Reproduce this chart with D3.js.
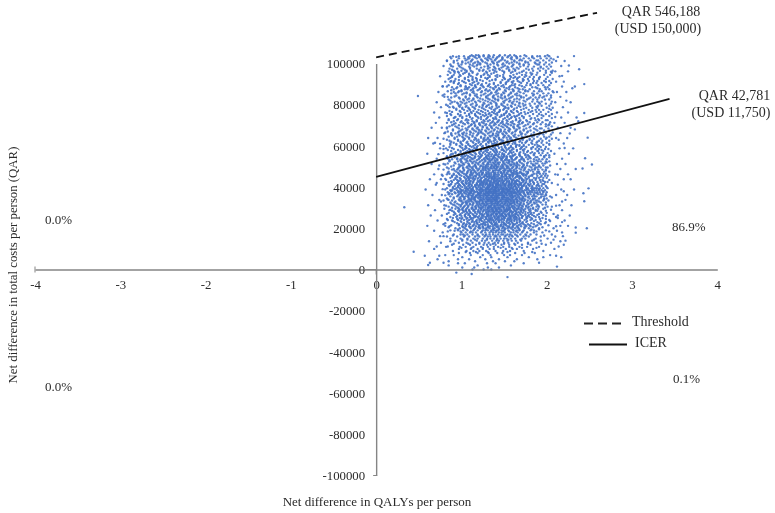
<!DOCTYPE html>
<html>
<head>
<meta charset="utf-8">
<script src="https://cdn.jsdelivr.net/npm/d3@7"></script>
<style>
  html, body { margin: 0; padding: 0; background: #fff; }
  svg { filter: blur(0.35px); }
  text { font-family: "Liberation Serif", serif; fill: #2b2b2b; }
</style>
</head>
<body>
<div id="chart"></div>
<script>
"use strict"

const qalyTicks = [-4, -3, -2, -1, 0, 1, 2, 3, 4];
const costTicks = [-100, -80, -60, -40, -20, 0, 20, 40, 60, 80, 100]; // thousand QAR

// line ends: [QALY, thousand QAR]
const thresholdLine = [[0, 103], [2.59, 124.6]];
const icerLine = [[0, 45], [3.44, 82.8]];

const quadrantLabels = ["0.0%", "0.0%", "86.9%", "0.1%"];
const lineLabels = ["QAR 546,188", "(USD 150,000)", "QAR 42,781", "(USD 11,750)"];
const legendLabels = ["Threshold", "ICER"];

// stray points: QALY, thousand QAR
const outliers = [[1.54,-3.7],[1.12,-2.2],[.94,-1.5],[.33,30.2],[.49,84.2],[2.49,39.4],[2.44,33.1],[2.32,103.6],[2.38,97.2],[2.12,1.4],[.61,2.2],[.44,8.6],[2.34,20.4],[2.34,17.9]];

// main cloud, read row by row: thousand QAR, then the QALYs in that row,
// in hundredths and counted from cloudOrigin
const cloudOrigin = 0.13;
const cloudRows = [
[0,[113,100,122]],[1,[118,88,131,102]],[2,[72,106,145]],[3,[91,117,83,160,127]],[4,[103,138,72,124,149]],
[5,[83,152,115,96,131,59,176]],[6,[204,122,88,166,109,141,183]],[7,[68,137,98,158,121,191,112,78,144]],[8,[106,173,129,84,150,97,135,119,161]],[9,[127,77,144,108,183,93,160,116,136,101]],
[10,[55,152,98,125,171,112,84,139,196,106,147,120]],[11,[130,69,110,164,92,143,118,178,85,125,155,101,136]],[12,[97,150,121,76,186,113,134,104,168,89,143,127,158,117,207]],[13,[142,63,108,130,175,93,153,119,100,165,126,84,137,192,114]],[14,[111,157,88,136,123,180,98,146,105,131,170,80,115,151,128,209,141]],
[15,[125,94,162,117,140,74,106,188,133,150,86,121,174,101,145,129,112,158,137]],[16,[147,103,82,128,166,114,138,96,153,121,70,180,108,132,143,90,160,118,126,197]],[17,[89,134,116,156,100,144,124,193,78,112,168,136,94,150,130,106,175,120,141,162,86]],[18,[120,158,97,138,110,65,148,127,182,104,134,87,164,115,145,124,100,153,172,131,92,205]],[19,[152,106,130,83,142,118,172,94,125,137,160,112,74,148,101,186,122,134,89,155,115,168,128]],
[20,[98,135,116,166,80,126,145,108,154,91,131,178,120,141,103,161,113,85,138,150,124,195,109,234]],[21,[141,112,73,128,157,96,136,119,174,104,147,88,124,163,133,108,152,118,198,100,130,143,92,168,121]],[22,[126,93,150,110,137,66,165,118,102,144,129,84,156,123,139,106,180,115,148,97,134,172,89,127,160,112]],[23,[105,146,122,87,159,131,113,176,99,140,125,152,79,117,136,163,108,128,143,94,205,120,134,155,102,186,115]],[24,[155,118,134,100,71,143,124,168,90,130,110,149,137,83,161,122,105,141,127,190,96,152,114,132,174,108,146,120]],
[25,[88,129,148,112,164,101,137,123,77,155,116,142,94,131,182,107,126,158,119,138,85,169,110,145,134,99,152,121,200]],[26,[139,104,120,159,91,133,147,113,172,125,82,143,108,135,154,117,97,128,165,140,111,186,122,102,150,131,87,145,118,136]],[27,[117,151,96,128,70,141,109,162,122,135,86,146,114,178,127,100,156,132,92,138,119,168,105,143,124,150,111,195,129,134,80]],[28,[130,93,144,118,157,103,125,136,78,167,112,148,121,90,140,128,154,106,180,116,133,97,162,123,146,109,138,84,126,151,119,131]],[29,[102,142,127,85,160,115,134,96,149,120,110,174,129,139,74,156,107,124,144,92,132,117,166,137,101,152,122,192,113,141,88,128]],
[30,[124,108,150,89,136,118,165,99,130,143,112,76,157,126,104,140,120,171,94,133,147,115,128,83,154,110,137,122,185,100,144,131,118]],[31,[146,116,95,132,69,158,121,107,141,128,177,86,136,113,152,125,100,163,119,143,134,91,148,110,126,139,104,169,122,155,130,115,198]],[32,[111,138,125,82,153,101,144,119,166,130,93,135,114,149,75,123,160,108,141,127,97,173,133,117,146,88,129,156,121,105,138,112,126,145]],[33,[131,92,148,115,124,160,104,137,80,142,120,178,127,99,152,112,134,87,145,123,168,108,139,116,96,155,129,63,141,118,132,106,149,122,205]],[34,[119,143,84,129,156,110,135,98,147,123,71,162,114,138,126,184,103,150,117,90,133,144,121,109,158,128,96,140,113,171,125,136,101,152,118,127]],
[35,[103,140,126,155,90,118,134,109,148,78,128,165,113,137,95,145,122,180,106,131,152,116,85,142,125,99,159,120,135,110,147,129,193,102,138,123]],[36,[136,115,68,147,124,100,157,130,88,141,119,172,106,133,150,112,126,95,144,121,162,83,137,109,128,153,116,140,98,131,123,186,104,146,118,134,110]],[37,[122,149,96,113,138,80,160,127,107,143,118,132,175,91,151,124,101,140,115,165,86,135,128,110,155,120,98,145,130,73,117,139,125,108,148,133,230]],[38,[109,134,155,87,124,146,116,99,168,129,141,75,120,136,105,153,127,92,144,113,183,122,138,102,159,118,131,84,149,125,111,142,97,135,120,128,207]],[39,[143,118,100,131,65,152,124,110,140,86,164,127,115,135,94,147,122,178,105,138,119,156,130,79,144,112,126,170,98,136,121,150,108,133,116,141]],
[40,[127,93,148,114,136,77,158,120,104,142,130,170,88,125,109,151,134,117,97,145,123,187,112,139,129,83,154,107,132,119,163,101,143,126]],[41,[105,139,121,160,90,128,146,112,72,135,118,156,99,131,142,124,176,108,150,115,85,137,127,96,166,120,144,110,133,123,103,153,130]],[42,[133,111,146,58,124,95,157,117,136,82,128,143,105,172,120,151,92,130,113,140,126,100,162,116,135,122,88,149,109,193]],[43,[118,150,98,131,75,143,122,108,160,127,89,137,113,154,125,183,101,141,116,132,94,147,120,168,106,134,128,84,110,152]],[44,[142,106,125,86,155,116,135,68,129,100,148,119,138,93,174,123,110,145,131,80,158,115,127,103,140,122,164,96,133]],
[45,[96,130,114,151,82,126,140,104,166,118,134,90,147,122,109,156,128,76,137,113,180,101,143,124,117,153,94,135,120]],[46,[129,105,148,119,64,138,92,159,125,111,143,85,131,170,116,100,152,127,135,78,145,108,122,162,97,139,114,200]],[47,[112,157,88,134,122,101,146,71,127,116,165,94,140,108,152,130,83,119,137,177,104,125,148,112,133,98,155]],[48,[145,99,124,79,136,113,160,106,130,143,90,120,152,116,186,127,102,138,85,148,110,131,168,95,125,141]],[49,[121,83,140,108,155,126,95,132,115,173,100,146,118,72,134,128,161,105,143,89,123,151,112,137,229]],
[50,[104,148,128,75,136,115,94,159,122,109,142,130,85,167,118,133,101,152,125,178,97,140,112]],[51,[138,90,117,153,126,68,144,107,131,160,96,122,146,84,135,113,171,103,128,149,119,240]],[52,[113,147,100,132,79,156,121,140,92,165,127,108,143,118,87,136,152,104,124,187,130]],[53,[129,86,141,111,160,97,134,120,73,148,105,126,175,115,138,93,155,122,143]],[54,[120,102,151,82,133,114,168,127,94,140,108,146,88,124,158,117,135,232,99]],
[55,[144,95,125,70,137,110,156,119,87,130,166,103,147,116,134,91,122,184,107,140]],[56,[109,135,155,84,123,60,142,115,98,162,128,75,137,104,150,120,90,131,172]],[57,[132,96,117,148,80,126,108,164,139,92,121,145,101,170,113,129,86,156]],[58,[116,146,100,71,134,159,89,124,110,140,181,97,128,152,83,118,136]],[59,[139,88,126,105,157,93,131,113,147,76,120,169,102,143,117,208]],
[60,[97,127,151,85,112,138,66,160,106,130,92,145,119,178,124,101,155]],[61,[123,62,142,104,133,87,170,116,150,95,128,110,137,190,81,147,125]],[62,[108,155,94,129,140,75,118,163,100,135,86,148,122,112,176]],[63,[134,90,113,146,70,127,102,159,120,141,83,107,167,132,116,201]],[64,[118,151,96,131,79,140,110,125,187,89,145,103,136,160,114,235]],
[65,[142,85,123,105,154,92,130,115,172,100,138,76,148,120,127]],[66,[101,135,80,158,112,124,93,146,107,180,128,88,140,118,214]],[67,[129,97,150,71,116,137,104,165,122,84,143,110,133,156]],[68,[111,144,88,126,100,160,133,77,152,119,94,138,174,107,220]],[69,[136,82,117,148,95,128,106,141,70,167,122,112,155]],
[70,[120,98,153,84,131,109,145,76,125,162,103,138,115,189]],[71,[102,140,89,121,158,95,133,113,147,80,126,172,108]],[72,[147,78,114,130,100,155,87,124,141,105,118,164,135,224]],[73,[125,93,136,110,168,83,143,116,99,151,128,72,177]],[74,[106,150,88,127,118,141,97,160,132,110,80,146,197]],
[75,[134,75,112,154,96,122,144,103,181,129,86,137,116]],[76,[115,148,91,129,70,157,107,125,139,99,165,120,231]],[77,[140,85,118,101,152,94,132,73,145,110,170,126]],[78,[103,127,160,81,137,113,96,149,122,190,88,142]],[79,[123,92,146,77,131,108,156,116,100,138,175,85]],
[80,[112,150,86,128,98,141,119,69,162,105,134]],[81,[137,82,121,104,155,93,127,146,113,178,88]],[82,[99,144,74,130,115,160,107,123,90,138,210]],[83,[126,85,109,152,96,135,118,166,101,143]],[84,[147,79,116,130,92,124,157,105,138,184]],
[85,[105,134,88,150,113,97,128,67,143,172,120]],[86,[122,100,156,83,136,110,145,93,127,195]],[87,[138,75,115,162,98,129,106,148,120,87]],[88,[94,131,109,153,81,124,140,101,176,217]],[89,[127,86,144,103,118,158,92,134,112,65]],
[90,[111,150,83,125,97,139,106,168,120,231]],[91,[133,90,146,102,155,78,140,186]],[92,[100,142,123,84,160,109,135,95,127]],[93,[118,153,91,104,137,74,148,115,178]],[94,[144,86,127,98,163,110,132,120,205]],
[95,[106,122,89,152,96,170,114]],[96,[137,100,158,83,116,147,128,93,192]],[97,[91,124,108,143,132,76,166,113,150]],[98,[120,152,97,134,87,142,110,180,126]],[99,[105,130,84,147,118,160,100,138,213]],
[100,[143,92,125,109,155,83,136,117,174,101]],[101,[98,131,149,112,88,123,162,106,141]],[102,[117,156,100,135,127,94,146,110,195,122]],[103,[129,95,141,108,152,118,135,170,103,124,146]],[104,[113,138,99,149,125,161,107,132,119,188,144,104]],
// second pass over the same cloud, on the half thousands
[8.5,[92,141,118,170,104]],[10.5,[133,87,158,112,175,99,146]],[12.5,[124,165,95,149,108,181,137,78]],[14.5,[103,156,129,88,172,117,142,195,94]],[16.5,[139,91,163,115,184,106,152,127,77,146]],
[18.5,[111,175,86,143,128,159,98,136,190,122,71,151]],[19.5,[147,102,169,124,83,155,116,138,178,93,131]],[20.5,[118,161,89,143,107,182,129,72,153,97,171,136,112,147]],[21.5,[154,84,126,176,101,139,115,162,92,148,189,108,133,75,167]],[22.5,[137,96,158,113,82,185,127,147,105,169,90,142,122,178,68,152]],
[23.5,[100,172,131,149,86,119,164,94,140,111,191,77,156,125,180,104,145]],[24.5,[163,87,144,121,179,98,135,155,109,70,170,128,150,93,186,116,141,82]],[25.5,[126,174,92,151,106,137,81,167,115,144,198,97,158,130,178,74,149,103,163]],[26.5,[95,148,170,112,134,85,157,122,183,101,143,166,78,128,153,91,176,118,139,162]],[27.5,[143,79,165,108,187,125,94,152,136,172,88,116,159,103,181,131,147,72,169,98,155]],
[28.5,[113,160,89,138,176,101,150,124,76,168,96,145,186,119,134,83,157,107,174,128,141,92]],[29.5,[171,99,127,154,84,140,110,183,67,162,118,148,93,177,131,104,158,80,143,123,168,88,152]],[30.5,[90,146,119,175,103,159,81,134,188,112,166,95,142,126,72,154,178,107,136,163,86,149,121,193]],[31.5,[155,100,129,170,87,144,114,182,93,160,77,137,123,176,106,150,84,165,117,141,97,186,132,156,109]],[32.5,[122,180,94,147,108,164,74,135,157,89,172,116,143,101,186,127,79,152,168,112,139,92,175,130,149,105]],
[33.5,[161,85,139,111,176,98,153,126,66,169,103,145,189,118,87,158,133,174,94,148,121,183,76,165,109,141,128]],[34.5,[102,171,128,91,151,116,184,78,142,160,107,135,173,86,155,120,96,178,131,146,70,167,112,187,140,99,158,124]],[35.5,[147,89,175,122,104,162,82,137,191,113,154,95,170,129,74,144,181,108,159,87,136,173,117,150,100,166,127,184,92]],[36.5,[113,182,96,156,131,76,168,108,146,88,177,124,161,101,139,186,84,152,115,172,93,143,128,165,72,155,106,180,135,119]],[37.5,[170,94,141,119,187,83,157,106,173,134,98,150,71,164,126,179,110,145,90,160,116,183,86,137,167,103,153,122,176,79,147]],
[38.5,[87,152,127,178,101,163,74,140,115,185,95,158,131,172,82,148,108,166,92,136,181,120,155,76,170,112,143,99,175,125,161,89]],[39.5,[156,105,174,81,134,163,96,147,118,188,70,152,127,169,91,179,110,140,85,158,123,172,100,145,183,77,165,116,137,93,176,128]],[40.5,[124,167,91,149,107,181,73,142,158,118,175,86,133,163,99,186,112,154,79,146,128,170,95,138,160,103,178,83,150,121]],[41.5,[145,80,172,113,155,97,184,128,66,161,105,138,177,89,148,120,168,93,157,75,143,182,109,130,165,84,152,116]],[42.5,[101,159,130,176,87,146,114,188,76,167,97,140,155,121,180,83,136,171,107,150,92,163,125,185,72,143,111]],
[43.5,[170,92,139,163,109,182,78,152,125,174,86,146,102,190,118,158,69,135,167,96,179,114,148,82,160,129]],[44.5,[85,155,120,178,98,144,166,74,132,187,107,157,91,172,126,140,80,162,111,183,95,150,123,175,101]],[45.5,[160,108,185,76,139,153,93,170,120,65,147,181,103,163,87,134,176,116,155,98,144,188,81,168,125]],[46.5,[126,175,90,150,111,186,73,141,164,99,179,120,158,84,135,172,106,147,93,183,117,160,78,153]],[47.5,[94,163,137,178,81,149,118,190,103,156,72,142,171,110,184,88,133,165,98,176,124,151,86,145]],
[48.5,[170,76,144,115,182,97,157,128,66,173,107,138,186,90,161,119,149,82,177,101,132,166,112]],[49.5,[113,186,89,152,125,174,70,141,162,104,180,93,135,169,116,147,84,176,129,158,99,188,121]],[50.5,[151,88,173,110,140,61,164,123,183,96,145,78,171,116,155,86,135,178,103,160,127,191]],[51.5,[95,169,130,185,80,149,112,174,71,142,158,100,182,125,164,89,137,176,106,152,118]],[52.5,[177,102,146,73,161,120,190,87,136,168,109,180,94,155,127,172,83,143,115,186,98]],
[53.5,[123,165,82,150,107,178,91,139,187,113,160,76,172,129,146,100,182,118,157,86,134]],[54.5,[89,176,136,158,70,145,116,184,97,167,125,140,79,174,109,152,190,103,163,131]],[55.5,[162,111,186,83,147,126,172,93,155,74,180,118,137,165,100,190,128,149,88]],[56.5,[127,178,96,143,168,80,155,112,188,103,135,173,90,160,119,182,66,146,108]],[57.5,[101,160,183,75,137,115,176,94,152,128,192,86,165,110,144,177,98,125]],
[58.5,[174,91,148,122,66,169,104,185,135,78,156,113,178,96,142,161,127,189]],[59.5,[117,163,86,151,180,99,138,73,171,124,158,105,186,92,145,176,111,134]],[60.5,[152,81,176,109,141,190,95,128,166,116,183,74,155,103,173,137,88,160]],[61.5,[93,169,133,187,78,150,119,175,101,162,126,56,181,143,107,158,86]],[62.5,[182,114,146,89,170,125,73,156,98,190,136,164,105,178,83,150,120]],
[63.5,[126,172,96,158,113,186,79,144,167,104,131,180,91,153,118,193,66]],[64.5,[100,164,137,88,176,121,149,72,184,110,158,94,170,128,143,190,82]],[65.5,[157,84,178,114,192,97,136,169,106,150,124,183,75,162,130,89]],[66.5,[131,172,90,147,110,186,68,156,120,179,98,164,139,83,194,107]],[67.5,[77,151,125,184,102,168,93,142,176,115,190,86,133,160,108]],
[68.5,[179,100,155,130,70,172,117,143,189,92,163,123,84,149,181,105]],[69.5,[112,186,88,160,134,175,96,148,73,168,122,193,103,153,140,80]],[70.5,[165,91,142,180,108,155,127,186,78,171,99,136,149,116,190]],[71.5,[135,176,86,159,111,191,94,167,123,75,182,145,102,154,129]],[72.5,[82,151,174,105,186,120,163,95,140,178,72,156,113,188,131,92]],
[73.5,[181,100,145,127,169,88,193,117,155,78,138,173,107,160,124]],[74.5,[114,176,93,158,134,183,70,149,104,167,121,190,85,152,141]],[75.5,[162,83,143,186,109,171,127,96,155,178,74,137,119,193,103]],[76.5,[98,180,131,153,86,168,112,189,76,146,161,123,175,105,140]],[77.5,[174,107,136,192,90,157,125,81,183,148,115,166,97,178,132]],
[78.5,[120,187,78,163,142,102,176,88,152,129,194,111,170,95,139]],[79.5,[154,93,181,117,145,71,168,128,190,104,160,84,136,177,112]],[80.5,[83,159,134,186,100,173,122,147,91,179,74,155,114,167,128,192]],[81.5,[170,109,143,193,79,152,125,181,96,162,118,136,86,176,103,148]],[82.5,[130,185,89,164,112,140,176,72,155,120,190,101,149,171,94,127]],
[83.5,[106,157,178,84,133,168,116,192,75,145,124,182,92,160,138,174]],[84.5,[187,97,152,125,171,81,142,110,179,134,65,163,103,155,118,192]],[85.5,[145,80,176,115,189,93,160,130,102,183,75,152,122,170,137,90]],[86.5,[111,165,87,148,181,128,71,172,101,154,194,118,139,162,84,178]],[87.5,[159,94,186,125,143,78,167,108,179,132,91,155,116,190,147,100]],
[88.5,[82,174,121,161,104,185,137,92,150,113,170,76,143,127,188,96]],[89.5,[168,110,146,190,86,130,177,99,155,72,163,119,183,136,103,149]],[90.5,[125,181,92,157,139,78,171,107,192,116,147,84,164,100,175,133]],[91.5,[88,153,176,105,166,184,75,142,96,159,120,190,79,172,148,112]],[92.5,[186,100,138,80,165,152,117,178,91,144,127,194,105,159,72,171]],
[93.5,[129,172,95,150,110,188,84,161,136,76,179,120,145,100,167,155]],[94.5,[78,162,113,184,129,96,175,148,85,191,105,158,136,71,169,118]],[95.5,[176,91,168,79,145,186,100,155,117,74,163,125,193,84,137]],[96.5,[108,150,186,87,135,171,98,160,120,78,179,143,112,194,93,126]],[97.5,[163,82,127,177,105,154,89,189,140,118,170,73,148,97,183,131]],
[98.5,[96,180,141,114,165,85,156,125,192,102,172,77,146,118,187,136]],[99.5,[155,109,176,87,135,166,97,190,121,148,74,178,106,160,129,184]],[100.5,[88,165,129,186,103,152,78,173,115,140,193,95,162,124,179,107,146]],[101.5,[175,92,138,158,82,183,111,149,70,168,126,190,99,155,118,177,133]],[102.5,[115,187,96,145,172,84,160,128,105,180,75,152,135,192,91,166,120]],
[103.5,[151,77,176,108,163,90,142,185,120,97,170,131,156,84,179,113,190,101]],
// thin left and right edges of the cloud
[3.3,[50,66,178]],[6.7,[44,61,198]],[11.2,[58,71,201]],[13.7,[49,74,203]],[16.2,[62,206,66]],[18.8,[55,79,199]],[21.2,[47,68,203,212]],[23.8,[59,76,208]],[26.2,[64,51,200,214]],[28.8,[56,73,205]],
[31.2,[48,67,79,202,216]],[33.8,[61,72,209]],[36.2,[53,64,198,211]],[38.8,[68,45,204,219]],[41.2,[57,74,200]],[43.8,[50,63,207,215]],[46.2,[70,55,197,212]],[48.8,[60,78,203,221]],[51.2,[52,66,199,209]],[53.8,[71,58,205]],
[56.2,[47,77,196,213]],[58.8,[62,69,202,218]],[61.2,[54,74,207]],[63.8,[59,48,198,211]],[66.2,[67,75,203]],[68.8,[52,64,200,215]],[71.2,[70,57,196,208]],[73.8,[61,79,204,222]],[76.2,[55,68,199,212]],[78.8,[63,73,206]],
[81.2,[58,76,197,215]],[83.8,[67,71,203]],[86.2,[60,78,199,210]],[88.8,[70,65,205,220]],[91.2,[68,74,198,207]],[93.8,[62,76,202]],[96.2,[72,79,197,212]],[98.8,[66,75,204]],[101.2,[70,78,198,208]],[103.2,[74,81,200]]
];

const width = 775, height = 513;

const x = d3.scaleLinear().domain([-4, 4]).range([35, 717.3]);
const y = d3.scaleLinear().domain([-100, 100]).range([475.5, 63.5]);

const svg = d3.select("#chart").append("svg")
  .attr("width", width)
  .attr("height", height)
  .style("display", "block");

// scatter first, axes and lines go over it
const cloud = outliers.concat(cloudRows.flatMap(r => r[1].map(q => [cloudOrigin + q / 100, r[0]])));

svg.append("g").selectAll("circle")
  .data(cloud)
  .join("circle")
  .attr("cx", d => x(d[0]))
  .attr("cy", d => y(d[1]))
  .attr("r", 1.2)
  .style("fill", "#4472c4")
  .style("opacity", 0.9);

const xAxis = d3.axisBottom(x).tickValues(qalyTicks).tickSize(0).tickPadding(10).tickFormat(d => String(d));
const yAxis = d3.axisLeft(y).tickValues(costTicks).tickSize(0).tickPadding(11).tickFormat(d => d * 1000);

function styleAxis(g) {
  g.selectAll("text")
    .style("font-size", "12.8px")
    .style("font-family", "'Liberation Serif', serif")
    .style("fill", "#2b2b2b");
  g.select(".domain")
    .style("stroke", "#858585")
    .style("stroke-width", 1.4);
}

svg.append("g")
  .attr("transform", `translate(0,${y(0)})`)
  .call(xAxis)
  .call(styleAxis);

svg.append("g")
  .attr("transform", `translate(${x(0)},0)`)
  .call(yAxis)
  .call(styleAxis);

// little end caps and the tick beside the zero label
const caps = [
  [x(-4), y(0) - 3, x(-4), y(0) + 3],
  [x(0) - 3, y(-100), x(0) + 1, y(-100)],
  [x(0) - 12, y(0), x(0), y(0)],
  [x(0), y(0), x(0), y(0) + 5]
];
svg.append("g").selectAll("line")
  .data(caps)
  .join("line")
  .attr("x1", d => d[0])
  .attr("y1", d => d[1])
  .attr("x2", d => d[2])
  .attr("y2", d => d[3])
  .style("stroke", "#858585")
  .style("stroke-width", 1);

const line = d3.line().x(d => x(d[0])).y(d => y(d[1]));

svg.append("path")
  .attr("d", line(thresholdLine))
  .style("fill", "none")
  .style("stroke", "#111")
  .style("stroke-width", 1.8)
  .style("stroke-dasharray", "8,5");

svg.append("path")
  .attr("d", line(icerLine))
  .style("fill", "none")
  .style("stroke", "#111")
  .style("stroke-width", 1.8);

function label(txt, px, py, anchor, size) {
  svg.append("text")
    .attr("x", px)
    .attr("y", py)
    .attr("text-anchor", anchor || "start")
    .attr("dominant-baseline", "middle")
    .style("font-size", (size || 13) + "px")
    .text(txt);
}

label(quadrantLabels[0], 45, 221);
label(quadrantLabels[1], 45, 388);
label(quadrantLabels[2], 672, 228.5);
label(quadrantLabels[3], 673, 380.5);

label(lineLabels[0], 661, 13, "middle", 14);
label(lineLabels[1], 658, 30, "middle", 14);
label(lineLabels[2], 734.5, 97, "middle", 14);
label(lineLabels[3], 731, 114, "middle", 14);

// legend
svg.append("line")
  .attr("x1", 584).attr("x2", 623).attr("y1", 323.5).attr("y2", 323.5)
  .style("stroke", "#222").style("stroke-width", 1.8).style("stroke-dasharray", "9,5");
svg.append("line")
  .attr("x1", 589).attr("x2", 627).attr("y1", 344.5).attr("y2", 344.5)
  .style("stroke", "#111").style("stroke-width", 1.8);
label(legendLabels[0], 632, 323, "start", 14);
label(legendLabels[1], 635, 344, "start", 14);

// axis titles
label("Net difference in QALYs per person", 377, 503.5, "middle", 13);
svg.append("text")
  .attr("transform", "translate(14,265) rotate(-90)")
  .attr("text-anchor", "middle")
  .attr("dominant-baseline", "middle")
  .style("font-size", "12.8px")
  .text("Net difference in total costs per person (QAR)");
</script>
</body>
</html>
